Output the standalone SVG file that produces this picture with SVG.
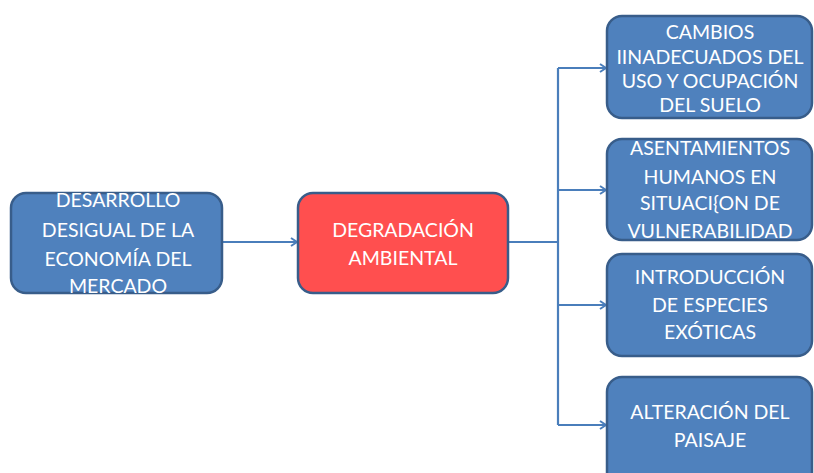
<svg xmlns="http://www.w3.org/2000/svg" width="814" height="473" viewBox="0 0 814 473">
<defs>
<style>
.box{fill:#4F81BD;stroke:#385D8A;stroke-width:2.5}
.red{fill:#FF4F4F;stroke:#385D8A;stroke-width:2.5}
.t{font-family:Lato,"Open Sans","Liberation Sans",sans-serif;font-size:19.5px;fill:#FFFFFF;text-anchor:middle}
.c{fill:none;stroke:#4A7EBB;stroke-width:2.2}
</style>
<marker id="arr" markerWidth="10" markerHeight="10" refX="8" refY="5" orient="auto" markerUnits="userSpaceOnUse">
<path d="M2,1 L8,5 L2,9" fill="none" stroke="#4A7EBB" stroke-width="2"/>
</marker>
</defs>
<rect width="814" height="473" fill="#FFFFFF"/>
<g id="connectors">
<line class="c" x1="222" y1="242" x2="297" y2="242" marker-end="url(#arr)"/>
<polyline class="c" points="508,242 558,242"/>
<line class="c" x1="558" y1="68" x2="558" y2="425"/>
<line class="c" x1="558" y1="68" x2="606" y2="68" marker-end="url(#arr)"/>
<line class="c" x1="558" y1="190" x2="606" y2="190" marker-end="url(#arr)"/>
<line class="c" x1="558" y1="305" x2="606" y2="305" marker-end="url(#arr)"/>
<line class="c" x1="558" y1="425" x2="606" y2="425" marker-end="url(#arr)"/>
</g>
<g id="desarrollo">
<rect class="box" x="11" y="193" width="211" height="100" rx="15"/>
<text class="t" x="118" y="207">DESARROLLO</text>
<text class="t" x="118" y="237">DESIGUAL DE LA</text>
<text class="t" x="118" y="266">ECONOMÍA DEL</text>
<text class="t" x="118" y="293">MERCADO</text>
</g>
<g id="degradacion">
<rect class="red" x="298" y="193" width="210" height="100" rx="15"/>
<text class="t" x="403" y="237">DEGRADACIÓN</text>
<text class="t" x="403" y="265">AMBIENTAL</text>
</g>
<g id="cambios">
<rect class="box" x="607" y="16" width="205" height="102" rx="15"/>
<text class="t" x="710" y="39">CAMBIOS</text>
<text class="t" x="710" y="64">IINADECUADOS DEL</text>
<text class="t" x="710" y="88">USO Y OCUPACIÓN</text>
<text class="t" x="710" y="112">DEL SUELO</text>
</g>
<g id="asentamientos">
<rect class="box" x="607" y="139" width="205" height="101" rx="15"/>
<text class="t" x="710" y="155">ASENTAMIENTOS</text>
<text class="t" x="710" y="184">HUMANOS EN</text>
<text class="t" x="710" y="210">SITUACI{ON DE</text>
<text class="t" x="710" y="238">VULNERABILIDAD</text>
</g>
<g id="introduccion">
<rect class="box" x="607" y="254" width="205" height="102" rx="15"/>
<text class="t" x="710" y="284">INTRODUCCIÓN</text>
<text class="t" x="710" y="312">DE ESPECIES</text>
<text class="t" x="710" y="339">EXÓTICAS</text>
</g>
<g id="alteracion">
<rect class="box" x="607" y="377" width="205" height="110" rx="15"/>
<text class="t" x="710" y="419">ALTERACIÓN DEL</text>
<text class="t" x="710" y="447">PAISAJE</text>
</g>
</svg>
